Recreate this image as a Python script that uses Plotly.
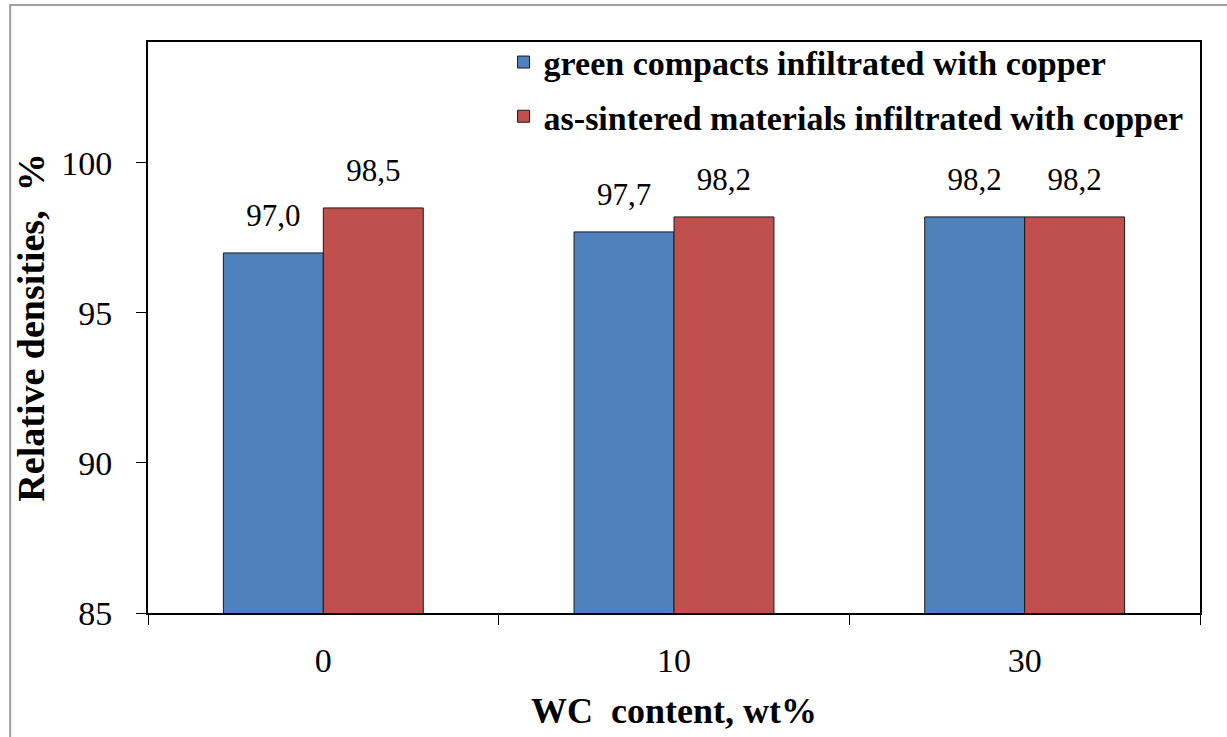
import plotly.graph_objects as go

categories = ["0", "10", "30"]
green_vals = [97.0, 97.7, 98.2]
sintered_vals = [98.5, 98.2, 98.2]
series_names = ["green compacts infiltrated with copper",
                "as-sintered materials infiltrated with copper"]
y_ticks = [85, 90, 95, 100]

FONT = "Liberation Serif"
label_tpl = "<span style='font-size:31px'>%{y:.1f}</span><br> "

fig = go.Figure()
fig.add_trace(go.Bar(x=categories, y=green_vals, name=series_names[0],
                     marker=dict(color="#4F81BD", line=dict(color="#1a1a1a", width=1)),
                     texttemplate=label_tpl, textposition="outside", constraintext="none",
                     textfont=dict(family=FONT, size=16, color="black"),
                     cliponaxis=False, legendgroup="a"))
fig.add_trace(go.Bar(x=categories, y=sintered_vals, name=series_names[1],
                     marker=dict(color="#C0504D", line=dict(color="#1a1a1a", width=1)),
                     texttemplate=label_tpl, textposition="outside", constraintext="none",
                     textfont=dict(family=FONT, size=16, color="black"),
                     cliponaxis=False, legendgroup="b"))

fig.update_layout(
    width=1227, height=737,
    separators=", ",
    paper_bgcolor="white", plot_bgcolor="white",
    margin=dict(l=148, r=27, t=42, b=124),
    barmode="group", bargap=0.43, bargroupgap=0,
    font=dict(family=FONT, size=30, color="black"),
    showlegend=True,
    legend=dict(x=0.338, y=1.015, xanchor="left", yanchor="top",
                bgcolor="rgba(0,0,0,0)", font=dict(family=FONT, size=34, color="black", weight="bold"),
                tracegroupgap=7, traceorder="grouped", itemwidth=30),
    xaxis=dict(type="category", showline=True, linecolor="black", linewidth=2, mirror=True,
               ticks="outside", tickson="boundaries", ticklen=10, tickcolor="black", tickwidth=1,
               tickfont=dict(family=FONT, size=34), ticklabelstandoff=16,
               title=dict(text="WC  content, wt%", font=dict(family=FONT, size=36, weight="bold"), standoff=20)),
    yaxis=dict(range=[85, 104.03], tickvals=y_ticks, showline=True, linecolor="black", linewidth=2,
               mirror=True, ticks="outside", ticklen=10, tickcolor="black", tickwidth=1,
               showgrid=False, zeroline=False,
               tickfont=dict(family=FONT, size=34), ticklabelstandoff=17,
               title=dict(text="Relative densities,  %", font=dict(family=FONT, size=38, weight="bold"), standoff=5)),
    shapes=[dict(type="rect", xref="paper", yref="paper", x0=-0.131, x1=1.1, y0=-0.3, y1=1.065,
                 line=dict(color="#a0a0a0", width=2), fillcolor="rgba(0,0,0,0)", layer="below")],
)
fig.write_html("out.html")
